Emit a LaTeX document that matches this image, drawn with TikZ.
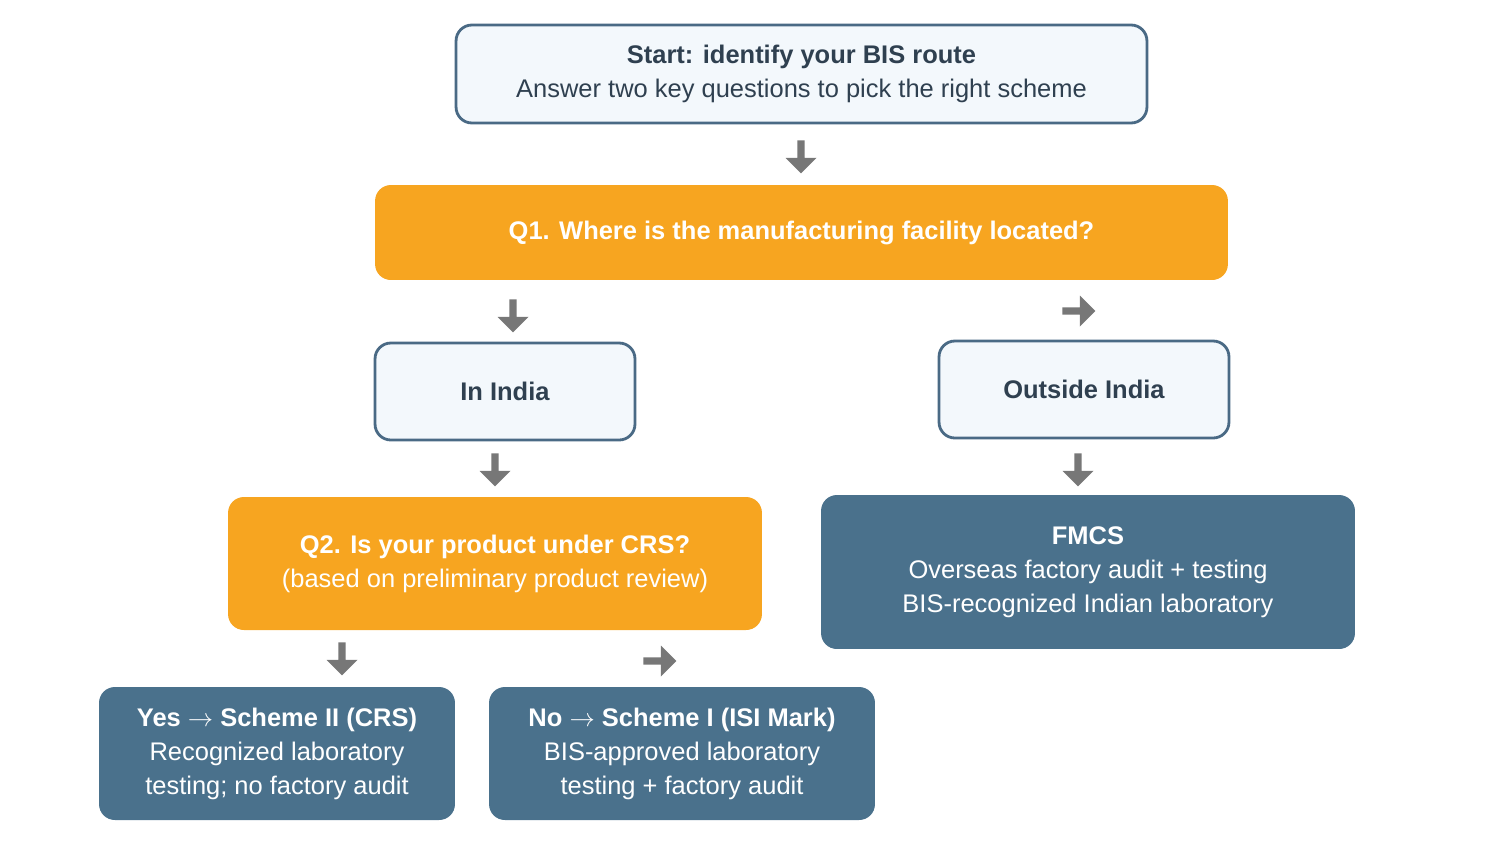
\documentclass[tikz,border=0pt]{standalone}
\usepackage{fontspec}
\setmainfont{Liberation Sans}
\definecolor{bisLine}{HTML}{4A6A85}
\definecolor{bisPale}{HTML}{F3F8FC}
\definecolor{bisText}{HTML}{2F4050}
\definecolor{bisOrange}{HTML}{F7A520}
\definecolor{bisSlate}{HTML}{4A718C}
\definecolor{bisGrey}{HTML}{777777}
\usetikzlibrary{positioning,shapes.arrows}

\begin{document}
\begin{tikzpicture}[x=0.02cm,y=-0.02cm,
  box/.style={rounded corners=9pt, align=center, inner sep=0pt,
    font=\fontsize{14.5}{19.3}\selectfont},
  pale/.style={box, draw=bisLine, line width=1.6pt, fill=bisPale, text=bisText},
  quest/.style={box, fill=bisOrange, text=white},
  result/.style={box, fill=bisSlate, text=white},
  blk/.style={single arrow, fill=bisGrey, minimum height=0.66cm,
    minimum width=0.62cm, single arrow head extend=0.14cm, inner sep=1pt}
]
  \useasboundingbox (0,0) rectangle (1504,846);

  \node[pale, minimum width=13.82cm, minimum height=1.96cm] (start) at (801.5,74)
    {\textbf{Start: identify your BIS route}\\Answer two key questions to pick the right scheme};
  \node[quest, minimum width=17.06cm, minimum height=1.9cm] (q1) at (801.5,232.5)
    {\textbf{Q1. Where is the manufacturing facility located?}};
  \node[pale, minimum width=5.2cm, minimum height=1.94cm] (india) at (505,391.5)
    {\textbf{In India}};
  \node[pale, minimum width=5.8cm, minimum height=1.94cm] (abroad) at (1084,389.5)
    {\textbf{Outside India}};
  \node[quest, minimum width=10.68cm, minimum height=2.66cm] (q2) at (495,563.5)
    {\textbf{Q2. Is your product under CRS?}\\(based on preliminary product review)};
  \node[result, minimum width=10.68cm, minimum height=3.08cm] (fmcs) at (1088,572)
    {\textbf{FMCS}\\Overseas factory audit + testing\\BIS-recognized Indian laboratory};
  \node[result, minimum width=7.12cm, minimum height=2.66cm] (yes) at (277,753.5)
    {\textbf{Yes $\rightarrow$ Scheme II (CRS)}\\Recognized laboratory\\testing; no factory audit};
  \node[result, minimum width=7.72cm, minimum height=2.66cm] (no) at (682,753.5)
    {\textbf{No $\rightarrow$ Scheme I (ISI Mark)}\\BIS-approved laboratory\\testing + factory audit};

  % block arrows between the steps
  \node[blk, shape border rotate=270] (a1) at (801,155) {};
  \node[blk, shape border rotate=225] (a2) at (513,314) {};
  \node[blk, shape border rotate=315] (a3) at (1077,311) {};
  \node[blk, shape border rotate=270] (a4) at (495,468) {};
  \node[blk, shape border rotate=270] (a5) at (1078,468) {};
  \node[blk, shape border rotate=225] (a6) at (342,657) {};
  \node[blk, shape border rotate=315] (a7) at (658,661) {};
\end{tikzpicture}
\end{document}
